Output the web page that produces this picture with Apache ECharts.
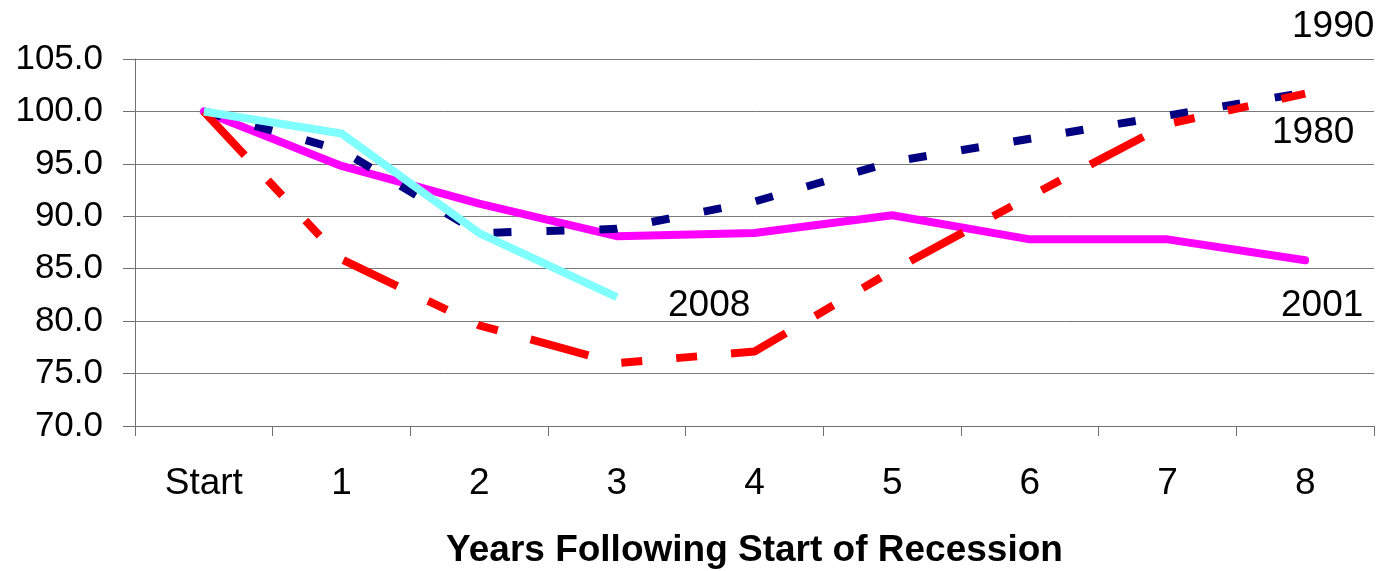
<!DOCTYPE html>
<html>
<head>
<meta charset="utf-8">
<script src="https://cdn.jsdelivr.net/npm/echarts@6/dist/echarts.min.js"></script>
<style>
    html, body { margin: 0; padding: 0; background: #fff; }
    #chart { width: 1380px; height: 571px; }
</style>
</head>
<body>
<div id="chart"></div>
<script>
    // years after start of recession
    var categories = ['Start', '1', '2', '3', '4', '5', '6', '7', '8'];
    var yTicks = { min: 70, max: 105, step: 5 };

    var y2001 = [100, 94.8, 91.2, 88.1, 88.4, 90.1, 87.8, 87.8, 85.8];
    var y1990 = [100, 96.3, 88.4, 88.8, 91.4, 95.2, 97.4, 99.6, 101.8];
    var y1980 = [100, 85.9, 79.6, 76.0, 77.1, 84.8, 91.9, 98.8, 101.7];
    var y2008 = [100, 97.9, 88.4, 82.3];

    var seriesNames = ['2001', '1990', '1980', '2008'];
    var xTitle = 'Years Following Start of Recession';

    var font = '"Liberation Sans", Arial, sans-serif';

    var chart = echarts.init(document.getElementById('chart'));
    var option = {
        animation: false,
        backgroundColor: '#ffffff',
        grid: { left: 135, right: 6, top: 59, bottom: 145, containLabel: false, outerBoundsMode: 'none' },
        xAxis: {
            type: 'category',
            data: categories,
            boundaryGap: true,
            name: xTitle,
            nameLocation: 'middle',
            nameGap: 106,
            nameTextStyle: { fontFamily: font, fontSize: 37, fontWeight: 'bold', color: '#000' },
            axisLine: { lineStyle: { color: '#707070', width: 1 } },
            axisTick: { show: true, length: 10, lineStyle: { color: '#707070' } },
            axisLabel: { fontFamily: font, fontSize: 37, color: '#000', margin: 39 },
            splitLine: { show: false }
        },
        yAxis: {
            type: 'value',
            min: yTicks.min,
            max: yTicks.max,
            interval: yTicks.step,
            axisLine: { show: true, lineStyle: { color: '#707070', width: 1 } },
            axisTick: { show: true, length: 12, lineStyle: { color: '#707070' } },
            axisLabel: {
                fontFamily: font, fontSize: 35, color: '#000', margin: 32,
                formatter: function (v) { return v.toFixed(1); }
            },
            splitLine: { show: true, lineStyle: { color: '#7a7a7a', width: 1 } }
        },
        series: [
            {
                name: seriesNames[0], type: 'line', data: y2001, symbol: 'none',
                lineStyle: { color: '#ff00ff', width: 8, cap: 'round', join: 'round' }
            },
            {
                name: seriesNames[1], type: 'line', data: y1990, symbol: 'none',
                lineStyle: { color: '#000080', width: 8, type: [18, 35] }
            },
            {
                name: seriesNames[2], type: 'line', data: y1980, symbol: 'none',
                lineStyle: { color: '#ff0000', width: 8, type: [60, 34, 21, 34, 21, 34] }
            },
            {
                name: seriesNames[3], type: 'line', data: y2008, symbol: 'none',
                lineStyle: { color: '#80ffff', width: 8 }
            }
        ],
        graphic: [
            { type: 'text', left: 1292, top: 8, style: { text: '1990', fontFamily: font, fontSize: 37, fill: '#000' } },
            { type: 'text', left: 1272, top: 114, style: { text: '1980', fontFamily: font, fontSize: 37, fill: '#000' } },
            { type: 'text', left: 668, top: 287, style: { text: '2008', fontFamily: font, fontSize: 37, fill: '#000' } },
            { type: 'text', left: 1281, top: 287, style: { text: '2001', fontFamily: font, fontSize: 37, fill: '#000' } }
        ]
    };
    chart.setOption(option);

    window.addEventListener('resize', function () {
        chart.resize();
    });
</script>
</body>
</html>
